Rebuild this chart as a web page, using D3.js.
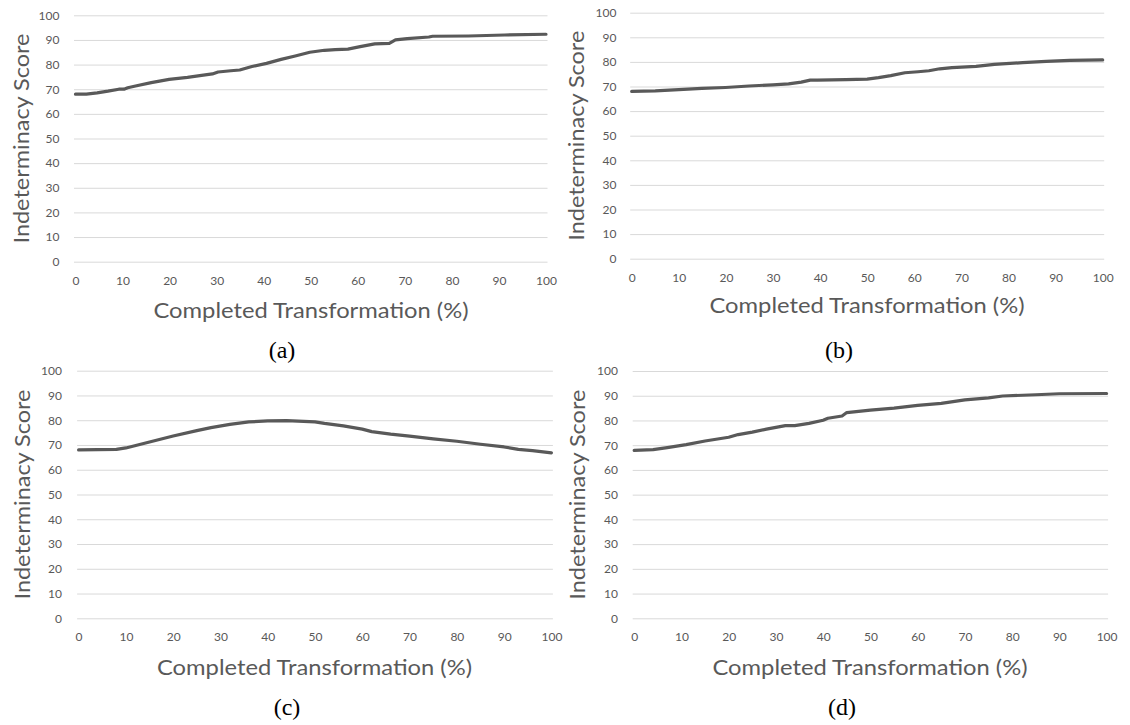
<!DOCTYPE html>
<html>
<head>
<meta charset="utf-8">
<script src="https://cdn.jsdelivr.net/npm/d3@7"></script>
<style>
  html, body { margin: 0; padding: 0; background: #ffffff; }
  svg { display: block; }
  .tick text { font-family: Lato, "Open Sans", sans-serif; font-size: 12px; fill: #595959; }
  .axis-title { font-family: Lato, "Open Sans", sans-serif; font-size: 22px; fill: #595959; }
  .caption { font-family: "Liberation Serif", "Times New Roman", serif; font-size: 24px; fill: #000000; }
</style>
</head>
<body>
<svg id="chart" width="1130" height="725"></svg>
<script>
// Indeterminacy score along the transformation, four scenarios (a)-(d)
const panelIds = ["(a)", "(b)", "(c)", "(d)"];
const xTickValues = [0, 10, 20, 30, 40, 50, 60, 70, 80, 90, 100];
const yTickValues = [0, 10, 20, 30, 40, 50, 60, 70, 80, 90, 100];
const xTitle = "Completed Transformation (%)";
const yTitle = "Indeterminacy Score";

const xA = [0, 2.3, 4.6, 6.9, 9.2, 10.3, 11.1, 13, 16.1, 19.9, 23.8, 26.8, 29.1, 30.3, 33, 34.9, 37.5, 40.6, 43.7, 46.7, 49.8, 52.9, 55.2, 57.9, 60.5, 63.6, 66.7, 68, 70.5, 75.1, 75.9, 83.5, 91.2, 100];
const yA = [68, 68, 68.5, 69.2, 70, 70, 70.6, 71.4, 72.7, 74, 74.8, 75.6, 76.2, 77, 77.5, 77.8, 79.2, 80.5, 82.1, 83.5, 85, 85.8, 86.1, 86.3, 87.3, 88.4, 88.6, 90, 90.5, 91.2, 91.5, 91.6, 92, 92.3];

const xB = [0, 5, 10, 14.9, 19.9, 24.9, 30, 33.3, 36, 37.9, 39.4, 45.5, 50, 52.4, 55, 58, 60.8, 63.1, 65.4, 68, 73.1, 77, 83, 88, 93, 100];
const yB = [68, 68.2, 68.7, 69.2, 69.6, 70.2, 70.7, 71.1, 71.8, 72.6, 72.6, 72.8, 73, 73.6, 74.4, 75.6, 76, 76.4, 77.2, 77.7, 78.2, 79, 79.7, 80.2, 80.6, 80.8];

const xC = [0, 8, 10, 15, 20, 25, 28, 32, 36, 40, 44, 50, 52, 56, 60, 62, 66, 70, 75, 80, 85, 90, 93, 96, 100];
const yC = [68, 68.2, 68.8, 71.2, 73.6, 75.8, 77, 78.3, 79.3, 79.7, 79.8, 79.3, 78.7, 77.7, 76.4, 75.4, 74.4, 73.6, 72.5, 71.5, 70.3, 69.2, 68.2, 67.7, 66.8];

const xD = [0, 4, 7, 10, 11, 15, 20, 22, 25, 28, 32, 34, 37, 40, 41, 44, 45, 50, 55, 60, 65, 70, 75, 78, 85, 90, 100];
const yD = [67.9, 68.2, 69, 69.9, 70.2, 71.7, 73.2, 74.3, 75.3, 76.5, 77.9, 77.9, 78.8, 80.1, 80.9, 81.8, 83.2, 84.2, 85, 86.1, 86.9, 88.3, 89.1, 89.9, 90.4, 90.8, 90.9];

const seriesX = [xA, xB, xC, xD];
const seriesY = [yA, yB, yC, yD];

// Placement of each small chart on the page
const layout = [
  { x0: 75.5, x1: 546,   yTop: 15.3,  yBot: 261.7, labelRight: 59.5, yTitleX: 28.5, xTitleX: 311,   xTitleY: 318, capX: 282, capY: 358 },
  { x0: 631.7, x1: 1102.7, yTop: 12.7, yBot: 258.7, labelRight: 616.5, yTitleX: 584, xTitleX: 867,  xTitleY: 313, capX: 839, capY: 358 },
  { x0: 78.6, x1: 551.4, yTop: 370.7, yBot: 618.3, labelRight: 62,   yTitleX: 29.5, xTitleX: 314.5, xTitleY: 675, capX: 287, capY: 715 },
  { x0: 634.2, x1: 1106.6, yTop: 371, yBot: 618.3, labelRight: 618,  yTitleX: 585, xTitleX: 870,  xTitleY: 675, capX: 842, capY: 715 }
];

const svg = d3.select("#chart");

layout.forEach((L, i) => {
  const g = svg.append("g");
  const x = d3.scaleLinear().domain([0, 100]).range([L.x0, L.x1]);
  const y = d3.scaleLinear().domain([0, 100]).range([L.yBot, L.yTop]);
  const ext = 1.5;

  // horizontal gridlines with value labels
  const yAxis = g.append("g")
    .attr("transform", `translate(${L.x0 - ext},0)`)
    .call(d3.axisLeft(y).tickValues(yTickValues)
      .tickSize(-(L.x1 - L.x0 + 2 * ext))
      .tickPadding(L.x0 - ext - L.labelRight)
      .tickFormat(d3.format("d")));
  yAxis.select(".domain").remove();
  yAxis.selectAll(".tick line").attr("stroke", "#d9d9d9").attr("stroke-width", 1);

  // category labels along the bottom
  const xAxis = g.append("g")
    .attr("transform", `translate(0,${L.yBot})`)
    .call(d3.axisBottom(x).tickValues(xTickValues).tickSize(0).tickFormat(d3.format("d")));
  xAxis.select(".domain").remove();
  xAxis.selectAll(".tick text").attr("y", 19).attr("dy", "0.35em");

  // score curve
  const pts = seriesX[i].map((v, k) => [v, seriesY[i][k]]);
  g.append("path")
    .datum(pts)
    .attr("fill", "none")
    .attr("stroke", "#595959")
    .attr("stroke-width", 3.2)
    .attr("stroke-linejoin", "round")
    .attr("stroke-linecap", "round")
    .attr("d", d3.line().x(d => x(d[0])).y(d => y(d[1])));

  // axis titles
  g.append("text")
    .attr("class", "axis-title")
    .attr("transform", `translate(${L.yTitleX},${(L.yTop + L.yBot) / 2}) rotate(-90)`)
    .attr("text-anchor", "middle")
    .attr("textLength", 210)
    .attr("lengthAdjust", "spacingAndGlyphs")
    .text(yTitle);

  g.append("text")
    .attr("class", "axis-title")
    .attr("x", L.xTitleX)
    .attr("y", L.xTitleY)
    .attr("text-anchor", "middle")
    .attr("textLength", 315)
    .attr("lengthAdjust", "spacingAndGlyphs")
    .text(xTitle);

  // panel caption
  g.append("text")
    .attr("class", "caption")
    .attr("x", L.capX)
    .attr("y", L.capY)
    .attr("text-anchor", "middle")
    .text(panelIds[i]);
});
</script>
</body>
</html>
